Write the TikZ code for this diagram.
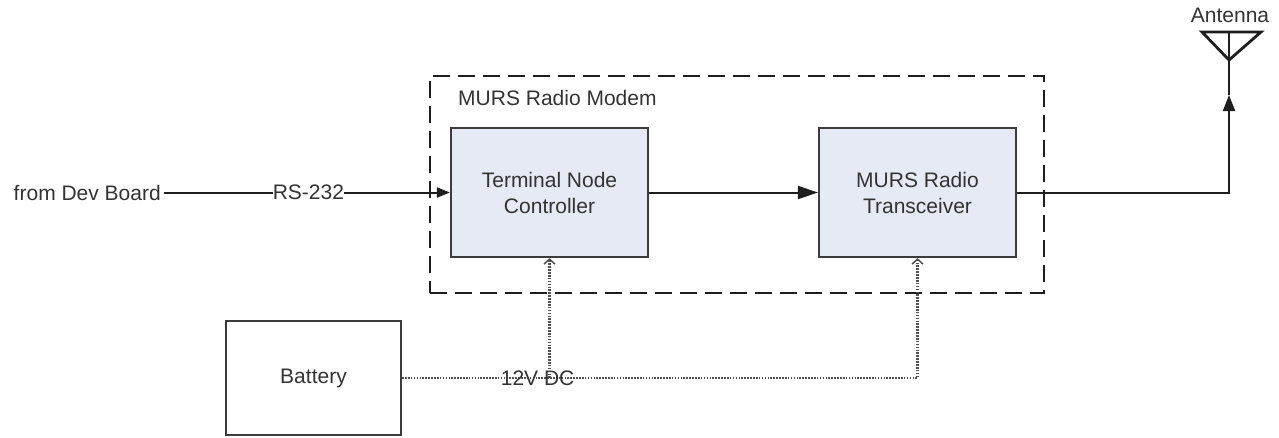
\documentclass[tikz,border=0pt]{standalone}
\usepackage{fontspec}
\setmainfont{Liberation Sans}
\usetikzlibrary{arrows.meta}
\definecolor{txt}{HTML}{333333}
\definecolor{boxfill}{HTML}{E6EAF4}
\definecolor{edge}{HTML}{3C3C3C}
\definecolor{wire}{HTML}{1E1E1E}
\definecolor{pwrc}{HTML}{505050}
\begin{document}
\begin{tikzpicture}[x=1pt,y=-1pt,
  font=\fontsize{21}{26}\selectfont, text=txt,
  block/.style={draw=edge, line width=2.2pt, fill=boxfill, minimum width=197pt, minimum height=129pt, align=center, inner sep=0pt},
  plainbox/.style={draw=edge, line width=2.2pt, fill=white, minimum width=175pt, minimum height=114pt, inner sep=0pt},
  group/.style={draw=wire, line width=2.2pt, dash pattern=on 17pt off 8pt, minimum width=614pt, minimum height=217pt, inner sep=0pt},
  sig/.style={draw=wire, line width=2pt},
  pwr/.style={draw=pwrc, line width=2.2pt, dash pattern=on 1.6pt off 1.3pt},
  lbl/.style={inner sep=0pt},
]
\useasboundingbox (0,0) rectangle (1279,437);

% group frame
\node[group] (modem) at (737,184.5) {};
\node[anchor=base west, inner sep=0pt] (modemlbl) at (458,105) {MURS Radio Modem};

% blocks
\node[block] (tnc) at (549.5,192.5) {Terminal Node\\Controller};
\node[block] (xcvr) at (917.5,192.5) {MURS Radio\\Transceiver};
\node[plainbox] (bat) at (313.5,378) {Battery};
\node[inner sep=3pt, anchor=east] (dev) at (164,192.5) {from Dev Board};

% signal connectors
\draw[sig, -{Triangle[length=13pt,width=10pt]}] (dev.east) -- node[lbl, fill=white, pos=0.505] (rs) {RS-232} (tnc.west);
\draw[sig, -{Triangle[length=20pt,width=13pt]}] (tnc.east) -- (xcvr.west);

% antenna
\coordinate (ant) at (1229,95);
\draw[sig, -{Triangle[length=16pt,width=12pt]}] (xcvr.east) -| (ant);
\draw[draw=wire, line width=2.8pt, line join=miter] (ant) -- (1229,32);
\draw[draw=wire, line width=2.8pt, line join=miter] (1202,32) -- (1261,32) -- (1229,60) -- cycle;
\node[lbl] (antlbl) at (1230,15) {Antenna};

% power connectors
\coordinate (j1) at (tnc.south |- bat.east);
\coordinate (j2) at (xcvr.south |- bat.east);
\draw[pwr, -{Straight Barb[length=5pt,width=11pt,line width=1.5pt]}] (bat.east) -- node[lbl, pos=0.263] (dc) {12V DC} (j2) -- (xcvr.south);
\draw[pwr, -{Straight Barb[length=5pt,width=11pt,line width=1.5pt]}] (j1) -- (tnc.south);
\end{tikzpicture}
\end{document}
